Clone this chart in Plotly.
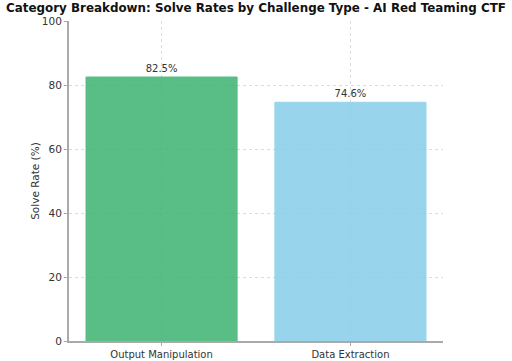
import plotly.graph_objects as go

categories = ["Output Manipulation", "Data Extraction"]
solve_rates = [82.5, 74.6]
bar_colors = ["#3CB371", "#87CEEB"]
y_ticks = [0, 20, 40, 60, 80, 100]

fig = go.Figure()
fig.add_trace(go.Bar(
    x=categories,
    y=solve_rates,
    width=0.8,
    marker=dict(color=bar_colors, opacity=0.85,
                line=dict(color=bar_colors, width=1)),
    text=[f"{v:.1f}%" for v in solve_rates],
    textposition="outside",
    textfont=dict(family="DejaVu Sans", size=10, color="#333333"),
    cliponaxis=False,
    hoverinfo="skip",
))

fig.update_layout(
    width=512, height=361,
    margin=dict(l=69, r=69, t=21, b=20, autoexpand=False),
    paper_bgcolor="white", plot_bgcolor="white",
    showlegend=False,
    font=dict(family="DejaVu Sans", size=10, color="#333333"),
    title=dict(
        text="<b>Category Breakdown: Solve Rates by Challenge Type - AI Red Teaming CTF</b>",
        x=0.5, xref="paper", xanchor="center", y=0.99, yanchor="top",
        font=dict(family="DejaVu Sans", size=11.9, color="#111111"),
        automargin=False,
    ),
    bargap=0.2,
)

fig.update_xaxes(
    range=[-0.49, 1.49],
    automargin=False,
    showline=True, linecolor="#aaaaaa", linewidth=1.5,
    showgrid=True, gridcolor="#dddddd", griddash="dot", gridwidth=0.8,
    ticks="outside", ticklen=3, tickcolor="#aaaaaa",
    tickfont=dict(family="DejaVu Sans", size=10, color="#333333"),
    zeroline=False,
)
fig.update_yaxes(
    range=[0, 100],
    automargin=False,
    tickvals=y_ticks,
    showline=True, linecolor="#aaaaaa", linewidth=2,
    showgrid=True, gridcolor="#dddddd", griddash="dot", gridwidth=0.8,
    ticks="outside", ticklen=3, tickcolor="#aaaaaa",
    tickfont=dict(family="DejaVu Sans", size=10.5, color="#333333"),
    title=dict(text="Solve Rate (%)", standoff=0,
               font=dict(family="DejaVu Sans", size=10.5, color="#333333")),
    zeroline=False,
)

fig.write_html(
    "out.html",
    config={"displayModeBar": False},
    post_script="document.body.style.margin='0';document.body.style.padding='0';",
)
